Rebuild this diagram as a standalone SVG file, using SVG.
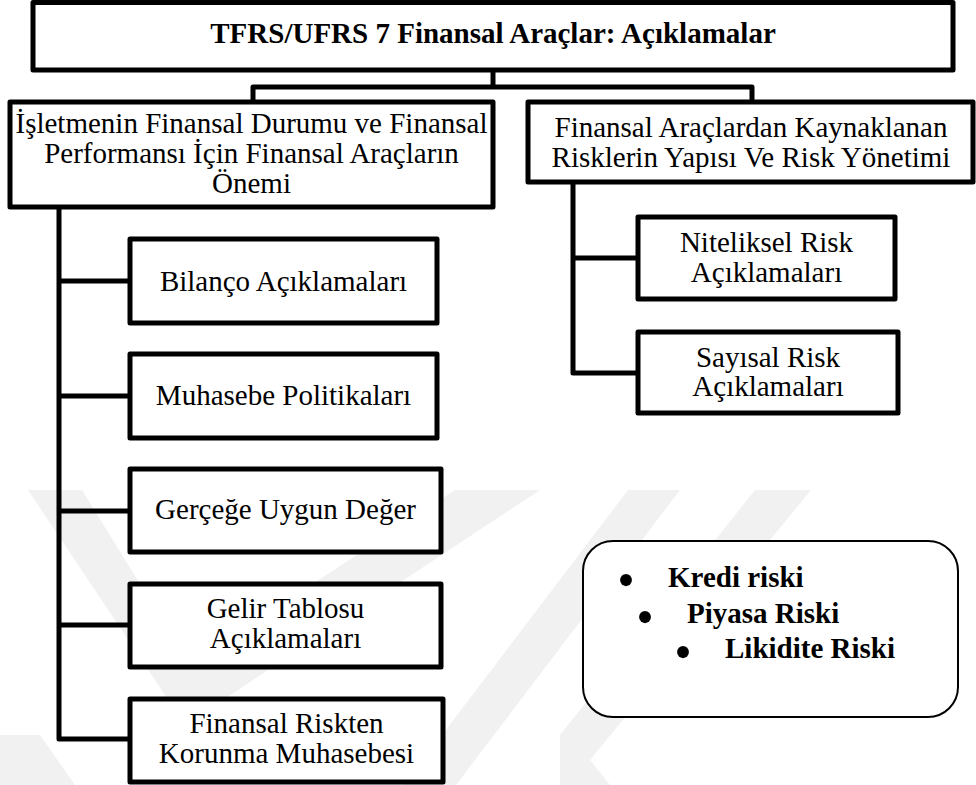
<svg xmlns="http://www.w3.org/2000/svg" width="976" height="785" viewBox="0 0 976 785">
<defs>
<style>
.box{fill:#fff;stroke:#000;stroke-width:5;stroke-linejoin:round}
.conn{fill:none;stroke:#000;stroke-width:5;stroke-linejoin:round}
.t{font-family:"Liberation Serif","Times New Roman",serif;font-size:29px;fill:#000;text-anchor:middle}
.b{font-family:"Liberation Serif","Times New Roman",serif;font-size:29px;font-weight:bold;fill:#000}
.dot{font-family:"Liberation Serif","Times New Roman",serif;font-size:50px;fill:#000;text-anchor:middle}
.wm{fill:#f1f1f1}
</style>
</defs>
<rect width="976" height="785" fill="#fff"/>
<g id="watermark">
<polygon class="wm" points="28,490 82,490 190,665 455,490 540,490 185,725"/>
<polygon class="wm" points="628,490 680,490 456,785 404,785"/>
<polygon class="wm" points="755,490 811,490 590,760 560,735"/>
<polygon class="wm" points="560,735 590,760 610,785 560,785"/>
<polygon class="wm" points="0,735 40,735 75,785 0,785"/>
</g>
<g id="connectors">
<path class="conn" d="M493,70 V87"/>
<path class="conn" d="M253,102 V87 H752 V102"/>
<path class="conn" d="M59,207 V739 H130"/>
<path class="conn" d="M59,281 H130 M59,396 H130 M59,511 H130 M59,625 H130"/>
<path class="conn" d="M573,182 V373 H638 M573,258 H638"/>
</g>
<g id="title">
<rect class="box" x="33" y="2.5" width="920" height="67.5"/>
<text class="b" x="493" y="43" text-anchor="middle">TFRS/UFRS 7 Finansal Araçlar: Açıklamalar</text>
</g>
<g id="onem">
<rect class="box" x="10" y="102" width="483" height="105"/>
<text class="t" x="251.5" y="133">İşletmenin Finansal Durumu ve Finansal</text>
<text class="t" x="251.5" y="163">Performansı İçin Finansal Araçların</text>
<text class="t" x="251.5" y="193">Önemi</text>
</g>
<g id="riskler">
<rect class="box" x="528" y="102" width="445" height="80"/>
<text class="t" x="751" y="137">Finansal Araçlardan Kaynaklanan</text>
<text class="t" x="751" y="167">Risklerin Yapısı Ve Risk Yönetimi</text>
</g>
<g id="bilanco">
<rect class="box" x="130" y="239" width="307" height="84"/>
<text class="t" x="283.5" y="291">Bilanço Açıklamaları</text>
</g>
<g id="muhasebe">
<rect class="box" x="130" y="354" width="307" height="84"/>
<text class="t" x="283.5" y="405">Muhasebe Politikaları</text>
</g>
<g id="gercege">
<rect class="box" x="130" y="469" width="311" height="83"/>
<text class="t" x="285.5" y="519">Gerçeğe Uygun Değer</text>
</g>
<g id="gelir">
<rect class="box" x="130" y="584" width="311" height="83"/>
<text class="t" x="285.5" y="618">Gelir Tablosu</text>
<text class="t" x="285.5" y="648">Açıklamaları</text>
</g>
<g id="korunma">
<rect class="box" x="130" y="699" width="313" height="83"/>
<text class="t" x="286.5" y="733">Finansal Riskten</text>
<text class="t" x="286.5" y="763">Korunma Muhasebesi</text>
</g>
<g id="niteliksel">
<rect class="box" x="638" y="217" width="257" height="82"/>
<text class="t" x="766.5" y="252">Niteliksel Risk</text>
<text class="t" x="766.5" y="282">Açıklamaları</text>
</g>
<g id="sayisal">
<rect class="box" x="638" y="332" width="260" height="81"/>
<text class="t" x="768" y="367">Sayısal Risk</text>
<text class="t" x="768" y="396">Açıklamaları</text>
</g>
<g id="risk-turleri">
<rect x="583" y="541" width="375" height="176" rx="30" ry="30" fill="#fff" stroke="#000" stroke-width="2"/>
<text class="dot" x="626" y="597">•</text>
<text class="b" x="668" y="587">Kredi riski</text>
<text class="dot" x="645" y="634">•</text>
<text class="b" x="687" y="623">Piyasa Riski</text>
<text class="dot" x="683" y="669">•</text>
<text class="b" x="725" y="658">Likidite Riski</text>
</g>
</svg>
